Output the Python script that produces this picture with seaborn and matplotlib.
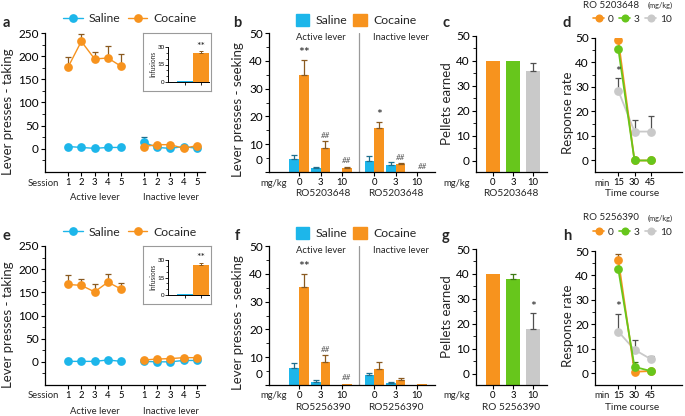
import numpy as np
import pandas as pd
import matplotlib
matplotlib.use("Agg")
import matplotlib.pyplot as plt
import seaborn as sns
from matplotlib.lines import Line2D
from matplotlib.patches import Patch
from matplotlib.ticker import MultipleLocator
from matplotlib.transforms import ScaledTranslation

# ---- data ----
sessions = [1, 2, 3, 4, 5]
doses = ["0", "3", "10"]
times = [15, 30, 45]

# a / e : lever presses during taking
a_sal_active = [5, 3, 1, 3, 3]
a_coc_active = [176, 232, 194, 196, 178]
a_coc_active_err = [22, 16, 16, 25, 27]
a_sal_inactive = [14, 3, 1, 5, 1]
a_sal_inactive_err = [11, 0, 0, 0, 0]
a_coc_inactive = [5, 9, 9, 1, 7]
a_infusions = [0.5, 25]
a_infusions_err = [0, 1.6]

e_sal_active = [1, 1, 1, 4, 1]
e_coc_active = [167, 165, 151, 172, 157]
e_coc_active_err = [20, 13, 16, 18, 14]
e_sal_inactive = [1, 0, 0, 3, 3]
e_sal_inactive_err = [0, 0, 0, 0, 0]
e_coc_inactive = [4, 6, 7, 9, 9]
e_infusions = [0.5, 26]
e_infusions_err = [0, 1.7]

# b / f : lever presses during seeking
b_sal_active = [4.8, 1.4, 0]
b_sal_active_err = [1.2, 0.5, 0]
b_coc_active = [34.9, 8.7, 1.4]
b_coc_active_err = [5.5, 2.4, 0.5]
b_sal_inactive = [4.1, 2.4, 0]
b_sal_inactive_err = [1.6, 1.3, 0]
b_coc_inactive = [16.0, 2.8, 0]
b_coc_inactive_err = [2.1, 0.5, 0]
b_marks_active = ["**", "##", "##"]
b_marks_inactive = ["*", "##", "##"]

f_sal_active = [6.0, 1.1, 0]
f_sal_active_err = [1.8, 0.8, 0]
f_coc_active = [35.2, 8.2, 0.5]
f_coc_active_err = [4.9, 2.6, 0]
f_sal_inactive = [3.5, 0.6, 0]
f_sal_inactive_err = [0.7, 0.4, 0]
f_coc_inactive = [5.9, 1.8, 0.4]
f_coc_inactive_err = [2.5, 0.7, 0]
f_marks_active = ["**", "##", "##"]
f_marks_inactive = ["", "", ""]

# c / g : pellets earned
c_pellets = [40, 40, 36]
c_pellets_err = [0, 0, 3]
c_marks = ["", "", ""]
g_pellets = [40, 38, 18]
g_pellets_err = [0, 2, 6.3]
g_marks = ["", "", "*"]

# d / h : response rate time course
d_dose0 = [49, 0, 0]
d_dose0_err = [3, 0, 0]
d_dose3 = [45.5, 0, 0]
d_dose3_err = [0, 0, 0]
d_dose10 = [28.5, 11.8, 11.8]
d_dose10_err = [5, 4.7, 6.4]
d_marks10 = ["*", "", ""]

h_dose0 = [46.2, 0.7, 1.0]
h_dose0_err = [2.7, 0, 0]
h_dose3 = [42.5, 2.7, 1.0]
h_dose3_err = [0, 1.9, 0]
h_dose10 = [17.1, 9.7, 5.9]
h_dose10_err = [7.1, 3.8, 1.2]
h_marks10 = ["*", "", ""]

CYAN = "#1DB6EA"
ORANGE = "#F7931E"
GREEN = "#67C61C"
GRAY = "#C9C9C9"
DARK = {CYAN: "#1F6F8E", ORANGE: "#8A5A20", GREEN: "#3E7A14", GRAY: "#505050"}

W, H = 685, 416
sns.set_style("ticks")
plt.rcParams["font.family"] = ["Lato", "DejaVu Sans"]
fig = plt.figure(figsize=(W / 100, H / 100), dpi=100)


def rect(l, t, r, b):
    return [l / W, 1 - b / H, (r - l) / W, (b - t) / H]


def ftext(x, y, s, **kw):
    kw.setdefault("ha", "center")
    kw.setdefault("va", "center")
    fig.text(x / W, 1 - y / H, s, **kw)


def style(ax, major, minor, ysize=8.5):
    sns.despine(ax=ax)
    for s in ["left", "bottom"]:
        ax.spines[s].set_color("black")
        ax.spines[s].set_linewidth(0.9)
    ax.yaxis.set_major_locator(MultipleLocator(major))
    ax.yaxis.set_minor_locator(MultipleLocator(minor))
    ax.tick_params(axis="y", which="major", labelsize=ysize, length=3, width=0.8, pad=1.5, colors="black")
    ax.tick_params(axis="y", which="minor", length=2, width=0.6, colors="black")
    ax.tick_params(axis="x", labelsize=6.8, length=3, width=0.8, pad=1.5, colors="black")
    ax.set_facecolor("none")
    ax.set_xlabel("")
    ax.set_ylabel("")


def add_err(ax, x, y, err, color, lw=0.9, cap=2):
    x, y, err = np.asarray(x, float), np.asarray(y, float), np.asarray(err, float)
    m = err > 0
    if m.any():
        ax.errorbar(x[m], y[m], yerr=[np.zeros(m.sum()), err[m]], fmt="none", ecolor=DARK[color],
                    elinewidth=lw, capsize=cap, capthick=lw, zorder=1.5)


def add_marks(ax, x, y, err, marks, pad, size=10):
    for xi, yi, ei, s in zip(x, y, err, marks):
        if not s:
            continue
        if s.startswith("#"):
            ax.text(xi, yi + ei + pad, s, ha="center", va="bottom", fontsize=5.8, color="#555555", style="italic")
        else:
            ax.text(xi, yi + ei + pad * 0.2, s, ha="center", va="bottom", fontsize=size, color="#222222")


def panel_taking(top, letter, sal_a, coc_a, coc_a_err, sal_i, sal_i_err, coc_i, inf, inf_err):
    ax = fig.add_axes(rect(45, 33 + top, 205, 172 + top))
    act_x = np.array(sessions, float)
    inact_x = act_x + 5.7
    df = pd.DataFrame({
        "x": np.concatenate([act_x, inact_x, act_x, inact_x]),
        "y": np.concatenate([sal_a, sal_i, coc_a, coc_i]),
        "group": ["Saline"] * 10 + ["Cocaine"] * 10,
        "lever": (["active"] * 5 + ["inactive"] * 5) * 2,
    })
    add_err(ax, act_x, coc_a, coc_a_err, ORANGE)
    add_err(ax, inact_x, sal_i, sal_i_err, CYAN)
    sns.lineplot(data=df, x="x", y="y", hue="group", units="lever", estimator=None,
                 hue_order=["Saline", "Cocaine"], palette={"Saline": CYAN, "Cocaine": ORANGE},
                 marker="o", markersize=6.3, markeredgewidth=0, linewidth=1, legend=False, sort=False, ax=ax)
    ax.set_xlim(-0.73, 11.3)
    ax.set_ylim(-50, 250)
    style(ax, 50, 25)
    ax.set_yticks(range(0, 251, 50))
    ax.set_yticks(range(-25, 250, 50), minor=True)
    ax.set_xticks(np.concatenate([act_x, inact_x]))
    ax.set_xticklabels([str(s) for s in sessions] * 2)
    ftext(59, 183 + top, "Session", ha="right", fontsize=6.8)
    ftext(95, 198 + top, "Active lever", fontsize=6.8)
    ftext(171, 198 + top, "Inactive lever", fontsize=6.8)
    ftext(8, 112 + top, "Lever presses - taking", rotation=90, fontsize=9.5)
    ftext(6, 23 + top, letter, fontsize=10.5, fontweight="bold")
    handles = [Line2D([], [], color=c, marker="o", markersize=6.3, lw=1, mew=0) for c in (CYAN, ORANGE)]
    fig.legend(handles, ["Saline", "Cocaine"], loc="center left", bbox_to_anchor=(63 / W, 1 - (19 + top) / H),
               ncol=2, frameon=False, fontsize=8.8, handlelength=1.6, handletextpad=0.5,
               columnspacing=0.6, borderpad=0, borderaxespad=0)

    # inset: infusions
    frame = fig.add_axes(rect(143, 33 + top, 211, 91 + top))
    frame.set_xticks([])
    frame.set_yticks([])
    frame.set_facecolor("white")
    for s in frame.spines.values():
        s.set_color("#9a9a9a")
        s.set_linewidth(0.8)
    iax = fig.add_axes(rect(168, 47 + top, 209, 82 + top))
    sns.barplot(x=["Saline", "Cocaine"], y=inf, hue=["Saline", "Cocaine"], palette=[CYAN, ORANGE],
                width=0.95, saturation=1, errorbar=None, legend=False, ax=iax, linewidth=0)
    add_err(iax, [0, 1], inf, inf_err, ORANGE, lw=0.7, cap=1.5)
    iax.set_xlim(-1.06, 1.5)
    iax.set_ylim(0, 30)
    style(iax, 15, 5, ysize=4.5)
    iax.tick_params(axis="y", length=2, width=0.6, pad=0.5)
    iax.tick_params(axis="y", which="minor", length=1.2, width=0.5)
    iax.tick_params(axis="x", length=2, width=0.6)
    iax.spines["left"].set_linewidth(0.7)
    iax.spines["bottom"].set_linewidth(0.7)
    iax.set_xticks([0, 1])
    iax.set_xticklabels([])
    add_marks(iax, [1], [inf[1]], [inf_err[1]], ["**"], 1, size=7.5)
    ftext(153, 64 + top, "Infusions", rotation=90, fontsize=4.8)


def panel_seeking(top, letter, drug, sal_a, sal_a_err, coc_a, coc_a_err, sal_i, sal_i_err, coc_i, coc_i_err,
                  marks_a, marks_i):
    ax = fig.add_axes(rect(269, 33 + top, 435, 172 + top))
    pos = np.array([0, 1, 2, 3.5, 4.5, 5.5])
    sal = np.concatenate([sal_a, sal_i])
    coc = np.concatenate([coc_a, coc_i])
    df = pd.DataFrame({"x": np.concatenate([pos, pos]), "y": np.concatenate([sal, coc]),
                       "group": ["Saline"] * 6 + ["Cocaine"] * 6})
    sns.barplot(data=df, x="x", y="y", hue="group", hue_order=["Saline", "Cocaine"],
                palette={"Saline": CYAN, "Cocaine": ORANGE}, native_scale=True, orient="x",
                width=0.9, saturation=1, errorbar=None, legend=False, linewidth=0, ax=ax)
    off = 0.225
    add_err(ax, pos - off, sal, np.concatenate([sal_a_err, sal_i_err]), CYAN)
    coc_err = np.concatenate([coc_a_err, coc_i_err])
    add_err(ax, pos + off, coc, coc_err, ORANGE)
    add_marks(ax, pos + off, coc, coc_err, list(marks_a) + list(marks_i), 0.8)
    ax.axvline(2.78, color="#9a9a9a", lw=0.9)
    ax.set_xlim(-1.4, 6.33)
    ax.set_ylim(0, 50)
    style(ax, 10, 5)
    ax.set_xticks(pos)
    ax.set_xticklabels(doses * 2)
    for lab in ax.get_yticklabels():
        if lab.get_text() in ("0", "−0"):
            lab.set_transform(lab.get_transform() + ScaledTranslation(0, 0.12, fig.dpi_scale_trans))
    tr = ax.get_xaxis_transform()
    ax.text(1, 0.97, "Active lever", transform=tr, ha="center", va="center", fontsize=6.8)
    ax.text(4.75, 0.97, "Inactive lever", transform=tr, ha="center", va="center", fontsize=6.8)
    ftext(287, 183 + top, "mg/kg", ha="right", fontsize=6.8)
    ftext(323, 194 + top, drug, fontsize=7.3)
    ftext(396, 194 + top, drug, fontsize=7.3)
    ftext(238, 110 + top, "Lever presses - seeking", rotation=90, fontsize=9.5)
    ftext(237, 23 + top, letter, fontsize=10.5, fontweight="bold")
    handles = [Patch(color=CYAN), Patch(color=ORANGE)]
    fig.legend(handles, ["Saline", "Cocaine"], loc="center left", bbox_to_anchor=(296 / W, 1 - (20 + top) / H),
               ncol=2, frameon=False, fontsize=8.8, handlelength=1.1, handleheight=1.1, handletextpad=0.5,
               columnspacing=0.5, borderpad=0, borderaxespad=0)


def panel_pellets(top, letter, drug, vals, errs, marks):
    ax = fig.add_axes(rect(476, 36 + top, 547, 172 + top))
    lo = -4.5
    sns.barplot(x=doses, y=vals, hue=doses, palette=[ORANGE, GREEN, GRAY], width=0.72, saturation=1,
                errorbar=None, legend=False, linewidth=0, ax=ax)
    for p in ax.patches:
        h = p.get_height()
        p.set_y(lo)
        p.set_height(h - lo)
    for i, c in enumerate([ORANGE, GREEN, GRAY]):
        add_err(ax, [i], [vals[i]], [errs[i]], c)
    add_marks(ax, range(3), vals, errs, marks, 1)
    ax.set_xlim(-0.85, 2.7)
    ax.set_ylim(lo, 50)
    style(ax, 10, 5)
    ax.set_xticks(range(3))
    ax.set_xticklabels(doses)
    ftext(470, 183 + top, "mg/kg", ha="right", fontsize=6.8)
    ftext(511, 194 + top, drug, fontsize=7.3)
    ftext(447, 104 + top, "Pellets earned", rotation=90, fontsize=9.5)
    ftext(446, 23 + top, letter, fontsize=10.5, fontweight="bold")


def panel_rate(top, letter, drug, d0, d0e, d3, d3e, d10, d10e, marks10):
    ax = fig.add_axes(rect(595, 38 + top, 682, 172 + top))
    for vals, errs, c in [(d10, d10e, GRAY), (d0, d0e, ORANGE), (d3, d3e, GREEN)]:
        add_err(ax, times, vals, errs, c)
        sns.lineplot(x=times, y=vals, color=c, marker="o", markersize=6.3, markeredgewidth=0,
                     linewidth=1.3, ax=ax, legend=False)
    add_marks(ax, times, d10, d10e, marks10, 1.5)
    ax.set_xlim(-6.6, 74)
    ax.set_ylim(-4.7, 50)
    style(ax, 10, 5)
    ax.set_yticks(range(0, 51, 10))
    ax.set_xticks(times)
    ax.set_xticklabels([str(t) for t in times])
    ftext(610, 183 + top, "min", ha="right", fontsize=6.8)
    ftext(632, 194 + top, "Time course", fontsize=7.3)
    ftext(568, 113 + top, "Response rate", rotation=90, fontsize=9.5)
    ftext(567, 23 + top, letter, fontsize=10.5, fontweight="bold")
    ftext(583, 5 + top, drug, ha="left", fontsize=7)
    ftext(648, 5 + top, "(mg/kg)", ha="left", fontsize=5.3)
    handles = [Line2D([], [], color=c, marker="o", markersize=5.8, lw=1.2, mew=0) for c in (ORANGE, GREEN, GRAY)]
    fig.legend(handles, doses, loc="center left", bbox_to_anchor=(593 / W, 1 - (19 + top) / H),
               ncol=3, frameon=False, fontsize=7.3, handlelength=1.1, handletextpad=0.35,
               columnspacing=0.55, borderpad=0, borderaxespad=0)


ROW2 = 213
panel_taking(0, "a", a_sal_active, a_coc_active, a_coc_active_err, a_sal_inactive, a_sal_inactive_err,
             a_coc_inactive, a_infusions, a_infusions_err)
panel_seeking(0, "b", "RO5203648", b_sal_active, b_sal_active_err, b_coc_active, b_coc_active_err,
              b_sal_inactive, b_sal_inactive_err, b_coc_inactive, b_coc_inactive_err,
              b_marks_active, b_marks_inactive)
panel_pellets(0, "c", "RO5203648", c_pellets, c_pellets_err, c_marks)
panel_rate(0, "d", "RO 5203648", d_dose0, d_dose0_err, d_dose3, d_dose3_err, d_dose10, d_dose10_err, d_marks10)

panel_taking(ROW2, "e", e_sal_active, e_coc_active, e_coc_active_err, e_sal_inactive, e_sal_inactive_err,
             e_coc_inactive, e_infusions, e_infusions_err)
panel_seeking(ROW2, "f", "RO5256390", f_sal_active, f_sal_active_err, f_coc_active, f_coc_active_err,
              f_sal_inactive, f_sal_inactive_err, f_coc_inactive, f_coc_inactive_err,
              f_marks_active, f_marks_inactive)
panel_pellets(ROW2, "g", "RO 5256390", g_pellets, g_pellets_err, g_marks)
panel_rate(ROW2, "h", "RO 5256390", h_dose0, h_dose0_err, h_dose3, h_dose3_err, h_dose10, h_dose10_err, h_marks10)

fig.savefig("out.png", dpi=100)
